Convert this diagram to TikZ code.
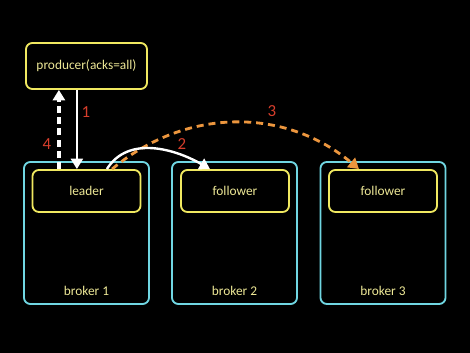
\documentclass[tikz,border=0pt]{standalone}
\usepackage{fontspec}
\setmainfont{Carlito}
\usetikzlibrary{arrows.meta,positioning}
\definecolor{NodeYellow}{RGB}{240,232,96}
\definecolor{TextYellow}{RGB}{238,232,150}
\definecolor{BrokerCyan}{RGB}{112,214,226}
\definecolor{StepRed}{RGB}{214,62,44}
\definecolor{CopyOrange}{RGB}{236,150,62}
\tikzset{
  brokerbox/.style={draw=BrokerCyan,line width=1.3pt,rounded corners=1.6mm,
    minimum width=3.125cm,minimum height=3.55cm},
  replicabox/.style={draw=NodeYellow,line width=1.3pt,rounded corners=1.6mm,
    minimum width=2.7cm,minimum height=1.05cm,text=TextYellow,
    font=\fontsize{9.5}{11}\selectfont},
  brokerlabel/.style={text=TextYellow,font=\fontsize{9.5}{11}\selectfont},
  steplabel/.style={text=StepRed,font=\fontsize{12}{14}\selectfont},
  sendarrow/.style={-{Triangle[length=2.6mm,width=3mm]},line width=1.7pt,draw=white},
  ackarrow/.style={-{Triangle[length=2.6mm,width=3mm]},line width=2.4pt,draw=white,
    dash pattern=on 5pt off 3pt},
  copyarrow/.style={-{Triangle[length=2.6mm,width=3mm]},line width=2pt,draw=CopyOrange,
    dash pattern=on 5pt off 3.5pt},
}
\begin{document}
\begin{tikzpicture}[x=0.025cm,y=0.025cm]
\fill[black] (0,0) rectangle (470,353);
% producer
\node[replicabox,minimum width=3.025cm,minimum height=1.15cm] (producer) at (86.5,287) {producer(acks=all)};
% brokers
\node[brokerbox] (broker1) at (86.5,120) {};
\node[brokerbox] (broker2) at (234.5,120) {};
\node[brokerbox] (broker3) at (383,120) {};
\node[brokerlabel] (b1label) at (86.5,62) {broker 1};
\node[brokerlabel] (b2label) at (234.5,62) {broker 2};
\node[brokerlabel] (b3label) at (383,62) {broker 3};
% replicas
\node[replicabox] (leader) at (86.5,162) {leader};
\node[replicabox] (follower2) at (235,162) {follower};
\node[replicabox] (follower3) at (383,162) {follower};
% steps
\draw[sendarrow] ([xshift=-0.24cm]producer.south) -- ([xshift=-0.24cm]leader.north);
\draw[ackarrow] ([xshift=-0.69cm]leader.north) -- ([xshift=-0.69cm]producer.south);
\draw[copyarrow] ([xshift=0.64cm]leader.north) to[out=40,in=140] ([xshift=-0.6cm]follower3.north);
\draw[sendarrow] ([xshift=0.51cm]leader.north) to[out=58,in=150] ([xshift=-0.625cm]follower2.north);
\node[steplabel] (n1) at (86,241) {1};
\node[steplabel] (n2) at (182,209) {2};
\node[steplabel] (n3) at (272,242) {3};
\node[steplabel] (n4) at (47,209) {4};
\end{tikzpicture}
\end{document}
